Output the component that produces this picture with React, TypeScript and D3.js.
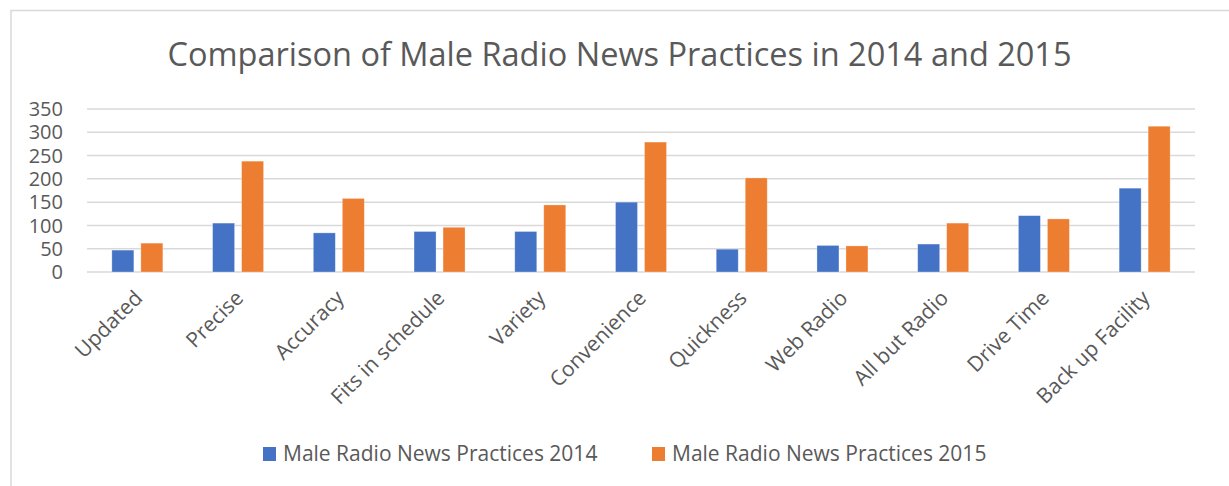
import React from "react";
import * as d3 from "d3";

const categories = [
  "Updated", "Precise", "Accuracy", "Fits in schedule", "Variety", "Convenience",
  "Quickness", "Web Radio", "All but Radio", "Drive Time", "Back up Facility",
];
const values2014 = [47, 105, 84, 87, 87, 150, 49, 57, 60, 121, 180];
const values2015 = [62, 238, 158, 96, 144, 279, 202, 56, 105, 114, 313];
const yTicks = [0, 50, 100, 150, 200, 250, 300, 350];
const seriesNames = ["Male Radio News Practices 2014", "Male Radio News Practices 2015"];
const seriesColors = ["#4472C4", "#ED7D31"];
const title = "Comparison of Male Radio News Practices in 2014 and 2015";

const W = 1229, H = 486;
const plot = { left: 87, right: 1195, top: 109, bottom: 272 };
const textColor = "#595959";
const font = "'Open Sans', sans-serif";

export default function App() {
  const x = d3.scaleBand<string>().domain(categories).range([plot.left, plot.right]).paddingInner(0).paddingOuter(0);
  const y = d3.scaleLinear().domain([0, 350]).range([plot.bottom, plot.top]);
  const barW = 22;
  const gap = 7;
  const series = [values2014, values2015];

  return (
    <svg width={W} height={H} style={{ position: "absolute", left: 0, top: 0, background: "#fff" }}>
      <rect x={0} y={0} width={W} height={H} fill="#fff" />
      <rect x={11} y={10.5} width={W + 20} height={H + 20} fill="none" stroke="#d9d9d9" strokeWidth={1.5} />
      <text x={619.5} y={66} textAnchor="middle" fontFamily={font} fontSize={32.5} fill={textColor}>{title}</text>
      {yTicks.map((t) => (
        <g key={t}>
          <line x1={plot.left} x2={plot.right} y1={y(t)} y2={y(t)} stroke="#d9d9d9" strokeWidth={1.5} />
          <text x={63} y={y(t)} dy="0.36em" textAnchor="end" fontFamily={font} fontSize={20} fill={textColor}>{t}</text>
        </g>
      ))}
      {categories.map((c, i) => {
        const cx = (x(c) as number) + x.bandwidth() / 2;
        return (
          <g key={c}>
            {series.map((vals, s) => {
              const bx = s === 0 ? cx - gap / 2 - barW : cx + gap / 2;
              return (
                <rect key={s} x={bx} y={y(vals[i])} width={barW} height={y(0) - y(vals[i])} fill={seriesColors[s]} stroke="#fff" strokeOpacity={0.4} strokeWidth={0.75} />
              );
            })}
            <text
              transform={`translate(${cx - 4},${plot.bottom + 17}) rotate(-45)`}
              textAnchor="end"
              dy="0.7em"
              fontFamily={font}
              fontSize={21}
              fill={textColor}
            >{c}</text>
          </g>
        );
      })}
      {seriesNames.map((n, s) => {
        const lx = s === 0 ? 263 : 652;
        return (
          <g key={n}>
            <rect x={lx} y={447} width={13} height={14} fill={seriesColors[s]} />
            <text x={lx + 20} y={461} fontFamily={font} fontSize={21} fill={textColor}>{n}</text>
          </g>
        );
      })}
    </svg>
  );
}
